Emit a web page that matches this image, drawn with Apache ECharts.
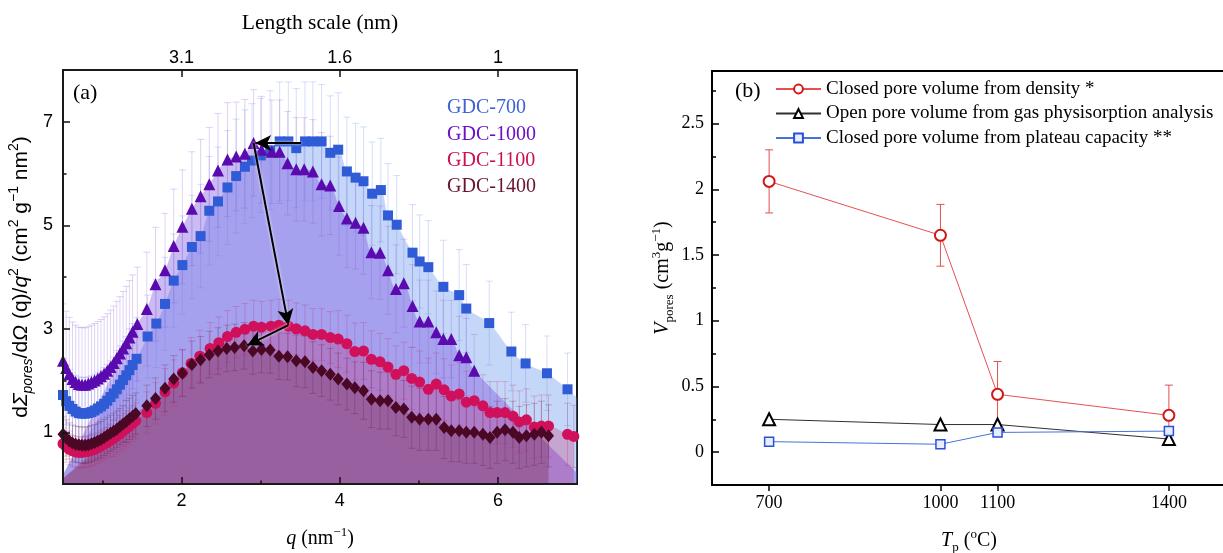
<!DOCTYPE html>
<html>
<head>
<meta charset="utf-8">
<script src="https://cdn.jsdelivr.net/npm/echarts@6/dist/echarts.min.js"></script>
<style>
  html, body { margin: 0; padding: 0; background: #fff; }
  #chart { width: 1223px; height: 553px; }
</style>
</head>
<body>
<div id="chart"></div>
<script>
// ---- panel (a): [q, value, error] ----
var gdc700 = [
  [0.50,1.72,0.7],[0.54,1.60,0.7],[0.58,1.51,0.7],[0.62,1.45,0.7],[0.66,1.40,0.7],[0.70,1.37,0.7],
  [0.74,1.36,0.7],[0.78,1.36,0.7],[0.82,1.37,0.7],[0.86,1.39,0.7],[0.90,1.42,0.7],[0.94,1.46,0.7],
  [0.98,1.50,0.7],[1.02,1.55,0.7],[1.06,1.61,0.7],[1.10,1.68,0.7],[1.14,1.75,0.7],[1.18,1.83,0.75],
  [1.22,1.92,0.75],[1.26,2.01,0.75],[1.30,2.10,0.75],[1.34,2.20,0.8],[1.38,2.30,0.8],[1.43,2.42,0.8],
  [1.57,2.85,0.8],[1.68,3.10,0.85],[1.79,3.48,0.9],[1.90,3.93,0.9],[2.01,4.23,0.95],[2.13,4.58,1.0],
  [2.24,4.79,1.0],[2.35,5.28,1.05],[2.46,5.46,1.05],[2.58,5.73,1.1],[2.69,5.95,1.1],[2.80,6.13,1.1],
  [2.89,6.25,1.1],[3.00,6.35,1.1],[3.12,6.45,1.15],[3.24,6.62,1.15],[3.35,6.62,1.15],[3.45,6.49,1.15],
  [3.56,6.62,1.15],[3.66,6.62,1.15],[3.77,6.62,1.1],[3.88,6.40,1.1],[3.98,6.46,1.1],[4.09,6.04,1.05],
  [4.20,5.92,1.05],[4.30,5.85,1.05],[4.41,5.61,1.0],[4.52,5.68,1.0],[4.61,5.19,1.0],[4.72,5.01,0.95],
  [4.92,4.47,0.93],[5.01,4.30,0.9],[5.12,4.19,0.9],[5.31,3.81,0.9],[5.51,3.65,0.88],[5.60,3.39,0.85],
  [5.89,3.11,0.81],[6.17,2.56,0.76],[6.35,2.33,0.75],[6.62,2.14,0.72],[6.88,1.83,0.7],[7.05,1.60,0.7]
];
var gdc1000 = [
  [0.50,2.38,1.1],[0.54,2.24,1.1],[0.58,2.12,1.1],[0.62,2.03,1.1],[0.66,1.97,1.1],[0.70,1.93,1.1],
  [0.74,1.92,1.1],[0.78,1.92,1.1],[0.82,1.94,1.1],[0.86,1.97,1.1],[0.90,2.00,1.1],[0.94,2.04,1.1],
  [0.98,2.08,1.1],[1.02,2.13,1.1],[1.06,2.19,1.1],[1.10,2.26,1.1],[1.14,2.34,1.1],[1.18,2.43,1.1],
  [1.22,2.52,1.1],[1.26,2.62,1.1],[1.30,2.72,1.1],[1.34,2.83,1.1],[1.38,2.94,1.1],[1.44,3.09,1.1],
  [1.56,3.38,1.1],[1.67,3.86,1.1],[1.79,4.13,1.1],[1.90,4.60,1.1],[2.01,4.97,1.1],[2.13,5.32,1.1],
  [2.24,5.56,1.1],[2.35,5.79,1.1],[2.46,6.06,1.1],[2.58,6.27,1.1],[2.69,6.33,1.05],[2.80,6.38,1.05],
  [2.91,6.59,1.03],[3.01,6.46,1.03],[3.14,6.42,1.0],[3.24,6.42,1.0],[3.34,6.20,1.0],[3.45,6.08,1.0],
  [3.55,6.08,1.0],[3.66,6.04,1.0],[3.77,5.79,1.0],[3.88,5.77,0.95],[3.99,5.37,0.95],[4.09,5.13,0.95],
  [4.20,5.05,0.9],[4.30,4.95,0.9],[4.40,4.48,0.9],[4.51,4.47,0.9],[4.61,4.13,0.85],[4.71,3.77,0.85],
  [4.81,3.88,0.85],[4.92,3.44,0.8],[5.01,3.14,0.8],[5.12,3.14,0.8],[5.22,2.93,0.8],[5.31,2.80,0.75],
  [5.41,2.80,0.75],[5.51,2.49,0.75],[5.60,2.45,0.75],[5.70,2.19,0.7]
];
var gdc1100 = [
  [0.50,0.78,0.3],[0.54,0.72,0.3],[0.58,0.67,0.3],[0.62,0.64,0.3],[0.66,0.62,0.3],[0.70,0.61,0.3],
  [0.74,0.61,0.3],[0.78,0.62,0.3],[0.82,0.63,0.3],[0.86,0.65,0.3],[0.90,0.67,0.3],[0.94,0.70,0.3],
  [0.98,0.73,0.3],[1.02,0.77,0.3],[1.06,0.80,0.3],[1.10,0.84,0.3],[1.14,0.88,0.35],[1.18,0.93,0.35],
  [1.22,0.97,0.35],[1.26,1.02,0.35],[1.30,1.07,0.35],[1.34,1.12,0.35],[1.38,1.17,0.35],[1.42,1.22,0.35],
  [1.56,1.38,0.4],[1.67,1.56,0.4],[1.79,1.78,0.45],[1.90,1.95,0.45],[2.01,2.15,0.45],[2.12,2.33,0.5],
  [2.23,2.47,0.5],[2.36,2.62,0.5],[2.47,2.73,0.5],[2.58,2.85,0.5],[2.69,2.93,0.5],[2.80,2.99,0.5],
  [2.91,3.05,0.5],[3.01,3.03,0.5],[3.13,3.05,0.5],[3.23,3.07,0.5],[3.35,3.05,0.5],[3.45,3.00,0.5],
  [3.56,2.96,0.5],[3.66,2.89,0.5],[3.77,2.89,0.5],[3.88,2.83,0.5],[3.98,2.80,0.55],[4.09,2.71,0.55],
  [4.19,2.56,0.55],[4.30,2.57,0.55],[4.40,2.41,0.55],[4.51,2.36,0.55],[4.61,2.26,0.55],[4.71,2.12,0.55],
  [4.81,2.19,0.55],[4.91,2.04,0.6],[5.01,1.97,0.6],[5.12,1.83,0.6],[5.22,1.93,0.6],[5.32,1.82,0.6],
  [5.41,1.70,0.6],[5.51,1.74,0.6],[5.60,1.58,0.6],[5.70,1.61,0.6],[5.81,1.51,0.6],[5.90,1.38,0.6],
  [5.99,1.38,0.6],[6.09,1.38,0.6],[6.19,1.31,0.6],[6.27,1.20,0.6],[6.36,1.24,0.6],[6.46,1.10,0.6],
  [6.55,1.12,0.6],[6.64,1.12,0.6],[6.88,0.96,0.6],[6.96,0.92,0.6]
];
var gdc1400 = [
  [0.50,0.96,0.35],[0.54,0.89,0.35],[0.58,0.83,0.35],[0.62,0.79,0.35],[0.66,0.77,0.35],[0.70,0.76,0.35],
  [0.74,0.75,0.35],[0.78,0.75,0.35],[0.82,0.76,0.35],[0.86,0.78,0.35],[0.90,0.80,0.35],[0.94,0.83,0.35],
  [0.98,0.86,0.35],[1.02,0.90,0.35],[1.06,0.94,0.35],[1.10,0.98,0.35],[1.14,1.02,0.35],[1.18,1.06,0.35],
  [1.22,1.11,0.35],[1.26,1.16,0.35],[1.30,1.21,0.4],[1.34,1.26,0.4],[1.38,1.31,0.4],[1.42,1.36,0.4],
  [1.56,1.51,0.4],[1.67,1.65,0.4],[1.79,1.85,0.45],[1.90,2.03,0.45],[2.01,2.14,0.45],[2.13,2.31,0.45],
  [2.24,2.40,0.45],[2.35,2.50,0.45],[2.46,2.57,0.45],[2.57,2.62,0.45],[2.67,2.64,0.45],[2.79,2.67,0.45],
  [2.90,2.57,0.45],[3.01,2.60,0.45],[3.12,2.59,0.45],[3.23,2.47,0.45],[3.34,2.46,0.45],[3.45,2.38,0.5],
  [3.56,2.36,0.5],[3.66,2.25,0.5],[3.77,2.19,0.5],[3.88,2.12,0.5],[3.98,2.03,0.5],[4.09,1.93,0.5],
  [4.19,1.86,0.5],[4.30,1.80,0.55],[4.40,1.64,0.55],[4.51,1.61,0.55],[4.61,1.61,0.55],[4.71,1.48,0.55],
  [4.81,1.45,0.55],[4.91,1.29,0.6],[5.01,1.25,0.6],[5.12,1.25,0.6],[5.22,1.25,0.6],[5.32,1.09,0.6],
  [5.41,1.03,0.6],[5.51,1.03,0.6],[5.60,1.00,0.6],[5.70,1.00,0.6],[5.81,0.96,0.6],[5.90,0.90,0.6],
  [5.99,1.00,0.6],[6.09,1.05,0.6],[6.19,1.00,0.6],[6.27,0.90,0.6],[6.36,0.93,0.6],[6.46,0.96,0.6],
  [6.55,1.00,0.6],[6.64,0.93,0.6]
];
// shaded envelopes: start point at low q, optional tail point
var fillStart = { g700: [0.5, 0.2], g1000: [0.5, 0.15], g1100: [0.5, 0.1], g1400: [0.5, 0.1] };
var fillTail1000 = [7.0, 0.22];
var fillFromQ = 1.42;

// arrows between peaks (data coords)
var arrowPts = [
  [[3.51, 6.59], [2.93, 6.59]],
  [[2.91, 6.59], [3.35, 3.07]],
  [[3.35, 3.07], [2.83, 2.68]]
];

// axis ticks
var qMajor = [2, 4, 6], qMinor = [1, 3, 5];
var aYMajor = [1, 3, 5, 7], aYMinor = [2, 4, 6];
var lengthLabels = ['3.1', '1.6', '1'];

// ---- panel (b) ----
var tempTicks = [700, 1000, 1100, 1400];
var densityV = [2.06, 1.65, 0.44, 0.28];
var densityErr = [0.24, 0.235, 0.25, 0.23];
var gasV = [0.25, 0.21, 0.21, 0.10];
var plateauV = [0.08, 0.06, 0.15, 0.16];
var bYMajor = [0, 0.5, 1, 1.5, 2, 2.5];
var bYMinor = [-0.25, 0.25, 0.75, 1.25, 1.75, 2.25, 2.75];

var SERIF = '"Liberation Serif", "DejaVu Serif", serif';
var SANS = '"Liberation Sans", Arial, sans-serif';

function pairs(list) { return list.map(function (p) { return [p[0], p[1]]; }); }
function fillData(list, start, tail) {
  var d = [start].concat(pairs(list.filter(function (p) { return p[0] >= fillFromQ; })));
  if (tail) d.push(tail);
  return d;
}
function errRender(params, api) {
  var x = api.value(0), y = api.value(1), e = api.value(2);
  var hi = api.coord([x, y + e]), lo = api.coord([x, y - e]);
  var w = params.seriesName === 'errB' ? 4 : 3.5;
  var st = { stroke: api.visual('color'), lineWidth: 1 };
  return { type: 'group', children: [
    { type: 'line', shape: { x1: hi[0], y1: hi[1], x2: lo[0], y2: lo[1] }, style: st },
    { type: 'line', shape: { x1: hi[0] - w, y1: hi[1], x2: hi[0] + w, y2: hi[1] }, style: st },
    { type: 'line', shape: { x1: lo[0] - w, y1: lo[1], x2: lo[0] + w, y2: lo[1] }, style: st }
  ]};
}

var groups = [
  { key: 'g700', name: 'GDC-700', d: gdc700, color: '#2f5bd6', fill: 'rgba(90,140,235,0.35)', err: 'rgba(90,130,230,0.25)', symbol: 'rect', size: 10, tail: null },
  { key: 'g1000', name: 'GDC-1000', d: gdc1000, color: '#5a0aae', fill: 'rgba(110,60,220,0.35)', err: 'rgba(140,80,220,0.25)', symbol: 'triangle', size: 12, tail: fillTail1000 },
  { key: 'g1100', name: 'GDC-1100', d: gdc1100, color: '#d0105a', fill: 'rgba(200,20,90,0.25)', err: 'rgba(190,40,110,0.25)', symbol: 'circle', size: 11, tail: null },
  { key: 'g1400', name: 'GDC-1400', d: gdc1400, color: '#4a0824', fill: 'rgba(90,10,40,0.25)', err: 'rgba(90,20,60,0.25)', symbol: 'diamond', size: [11, 13], tail: null }
];
var legendColors = ['#3d63d2', '#6a10c8', '#cc1050', '#6a1434'];

var series = [];
groups.forEach(function (g) {
  series.push({
    type: 'line', name: g.name + ' fill', xAxisIndex: 0, yAxisIndex: 0,
    data: fillData(g.d, fillStart[g.key], g.tail), smooth: 0.3, showSymbol: false,
    lineStyle: { width: 0 }, areaStyle: { color: g.fill, opacity: 1 }, z: 1, silent: true
  });
});
groups.forEach(function (g) {
  series.push({
    type: 'custom', name: g.name + ' err', xAxisIndex: 0, yAxisIndex: 0,
    data: g.d, renderItem: errRender, itemStyle: { color: g.err }, clip: true, z: 2, silent: true
  });
});
groups.forEach(function (g) {
  series.push({
    type: 'scatter', name: g.name, xAxisIndex: 0, yAxisIndex: 0,
    data: pairs(g.d), symbol: g.symbol, symbolSize: g.size,
    itemStyle: { color: g.color, opacity: 1 }, z: 3, clip: true
  });
});
series.push({
  type: 'line', name: 'arrows', xAxisIndex: 0, yAxisIndex: 0, data: [], z: 5,
  markLine: {
    silent: true, symbol: ['none', 'arrow'], symbolSize: [12, 16],
    label: { show: false },
    lineStyle: { color: '#000', width: 2, type: 'solid', shadowColor: 'rgba(255,255,255,0.9)', shadowBlur: 3 },
    data: arrowPts.map(function (a) { return [{ coord: a[0] }, { coord: a[1] }]; })
  }
});

// panel (b)
var lineStyleB = function (c) { return { color: c, width: 1 }; };
series.push({
  type: 'custom', name: 'errB', xAxisIndex: 3, yAxisIndex: 2,
  data: tempTicks.map(function (t, i) { return [t, densityV[i], densityErr[i]]; }),
  renderItem: errRender, itemStyle: { color: '#e05050' }, z: 2, silent: true
});
series.push({
  type: 'line', name: 'Closed pore volume from density *', xAxisIndex: 3, yAxisIndex: 2,
  data: tempTicks.map(function (t, i) { return [t, densityV[i]]; }),
  symbol: 'circle', symbolSize: 11, lineStyle: lineStyleB('#e85050'),
  itemStyle: { color: '#fff', borderColor: '#d01818', borderWidth: 2 }, z: 3
});
series.push({
  type: 'line', name: 'Open pore volume from gas physisorption analysis', xAxisIndex: 3, yAxisIndex: 2,
  data: tempTicks.map(function (t, i) { return [t, gasV[i]]; }),
  symbol: 'triangle', symbolSize: 12, lineStyle: lineStyleB('#303030'),
  itemStyle: { color: '#fff', borderColor: '#000', borderWidth: 2 }, z: 4
});
series.push({
  type: 'line', name: 'Closed pore volume from plateau capacity **', xAxisIndex: 3, yAxisIndex: 2,
  data: tempTicks.map(function (t, i) { return [t, plateauV[i]]; }),
  symbol: 'rect', symbolSize: 9, lineStyle: lineStyleB('#4a70e0'),
  itemStyle: { color: '#e8eeff', borderColor: '#2a50d8', borderWidth: 1.5 }, z: 5
});

var tickA = { show: true, inside: true, length: 7, lineStyle: { color: '#111', width: 1.5 } };
var minorA = { show: true, inside: true, length: 3.5, lineStyle: { color: '#111', width: 1.5 } };
var richA = {
  n: { fontFamily: SANS, fontSize: 21, lineHeight: 28, color: '#000' },
  i: { fontFamily: SANS, fontSize: 21, fontStyle: 'italic', lineHeight: 28, color: '#000' },
  sub: { fontFamily: SANS, fontSize: 14, fontStyle: 'italic', lineHeight: 15, verticalAlign: 'bottom', color: '#000' },
  sup: { fontFamily: SANS, fontSize: 14, lineHeight: 15, verticalAlign: 'top', color: '#000' }
};
var richS = {
  n: { fontFamily: SERIF, fontSize: 20, lineHeight: 26, color: '#000' },
  i: { fontFamily: SERIF, fontSize: 20, fontStyle: 'italic', lineHeight: 26, color: '#000' },
  sub: { fontFamily: SERIF, fontSize: 13, lineHeight: 14, verticalAlign: 'bottom', color: '#000' },
  sup: { fontFamily: SERIF, fontSize: 13, lineHeight: 14, verticalAlign: 'top', color: '#000' }
};
function plain(v) { return String(v); }

var option = {
  animation: false,
  backgroundColor: '#fff',
  grid: [
    { left: 63, top: 70, width: 514, height: 414, outerBoundsMode: 'none', containLabel: false,
      show: true, borderColor: '#1a1a1a', borderWidth: 2, backgroundColor: 'transparent' },
    { left: 712, top: 71, width: 514, height: 414, outerBoundsMode: 'none', containLabel: false,
      show: true, borderColor: '#000', borderWidth: 2, backgroundColor: 'transparent' }
  ],
  legend: {
    data: ['Closed pore volume from density *', 'Open pore volume from gas physisorption analysis', 'Closed pore volume from plateau capacity **'],
    orient: 'vertical', left: 775, top: 79, padding: 0, itemWidth: 45, itemHeight: 11, itemGap: 4.5,
    textStyle: { fontFamily: SERIF, fontSize: 19, color: '#000', lineHeight: 20 }
  },
  xAxis: [
    { gridIndex: 0, type: 'value', min: 0.5, max: 7, position: 'bottom', z: 10,
      axisLine: { show: true, onZero: false, lineStyle: { color: '#1a1a1a', width: 2 } },
      axisTick: Object.assign({ customValues: qMajor }, tickA),
      axisLabel: { customValues: qMajor, fontFamily: SANS, fontSize: 18, color: '#000', margin: 8, formatter: plain },
      splitLine: { show: false },
      name: '{i|q}{n| (nm}{sup|−1}{n|)}', nameLocation: 'middle', nameGap: 42,
      nameTextStyle: { rich: richS } },
    { gridIndex: 0, type: 'value', min: 0.5, max: 7, position: 'bottom', z: 10,
      axisLine: { show: false, onZero: false }, axisTick: Object.assign({ customValues: qMinor }, minorA),
      axisLabel: { show: false }, splitLine: { show: false } },
    { gridIndex: 0, type: 'value', min: 0.5, max: 7, position: 'top', z: 10,
      axisLine: { show: true, onZero: false, lineStyle: { color: '#1a1a1a', width: 2 } },
      axisTick: Object.assign({ customValues: qMajor }, tickA),
      axisLabel: { customValues: qMajor, fontFamily: SANS, fontSize: 18, color: '#000', margin: 3,
        formatter: function (v) { return lengthLabels[qMajor.indexOf(v)]; } },
      splitLine: { show: false },
      name: 'Length scale (nm)', nameLocation: 'middle', nameGap: 36,
      nameTextStyle: { fontFamily: SERIF, fontSize: 21.5, color: '#000' } },
    { gridIndex: 1, type: 'value', min: 600, max: 1500, position: 'bottom', z: 10,
      axisLine: { show: true, onZero: false, lineStyle: { color: '#000', width: 2 } },
      axisTick: { show: true, inside: false, length: 6, customValues: tempTicks, lineStyle: { color: '#000', width: 1.5 } },
      axisLabel: { customValues: tempTicks, fontFamily: SERIF, fontSize: 18, color: '#000', margin: 9, formatter: plain },
      splitLine: { show: false },
      name: '{i|T}{sub|p}{n| (}{sup|o}{n|C)}', nameLocation: 'middle', nameGap: 43,
      nameTextStyle: { rich: richS } }
  ],
  yAxis: [
    { gridIndex: 0, type: 'value', min: 0, max: 8, position: 'left', z: 10,
      axisLine: { show: true, onZero: false, lineStyle: { color: '#1a1a1a', width: 2 } },
      axisTick: Object.assign({ customValues: aYMajor }, tickA),
      axisLabel: { customValues: aYMajor, fontFamily: SANS, fontSize: 18, color: '#000', margin: 10 },
      splitLine: { show: false },
      name: '{n|d}{i|Σ}{sub|pores}{n|/d}{i|Ω}{n| (q)/}{i|q}{sup|2}{n| (cm}{sup|2}{n| g}{sup|−1}{n| nm}{sup|2}{n|)}',
      nameLocation: 'middle', nameRotate: 90, nameGap: 28,
      nameTextStyle: { rich: richA } },
    { gridIndex: 0, type: 'value', min: 0, max: 8, position: 'left', z: 10,
      axisLine: { show: false, onZero: false }, axisTick: Object.assign({ customValues: aYMinor }, minorA),
      axisLabel: { show: false }, splitLine: { show: false } },
    { gridIndex: 1, type: 'value', min: -0.25, max: 2.9, position: 'left', z: 10,
      axisLine: { show: true, onZero: false, lineStyle: { color: '#000', width: 2 } },
      axisTick: { show: true, inside: true, length: 7, customValues: bYMajor, lineStyle: { color: '#000', width: 1.5 } },
      axisLabel: { customValues: bYMajor, fontFamily: SERIF, fontSize: 18, color: '#000', margin: 8 },
      splitLine: { show: false },
      name: '{i|V}{sub|pores}{n| (cm}{sup|3}{n|g}{sup|−1}{n|)}',
      nameLocation: 'middle', nameRotate: 90, nameGap: 36,
      nameTextStyle: { rich: richS } },
    { gridIndex: 1, type: 'value', min: -0.25, max: 2.9, position: 'left', z: 10,
      axisLine: { show: false, onZero: false },
      axisTick: { show: true, inside: true, length: 4, customValues: bYMinor, lineStyle: { color: '#000', width: 1.5 } },
      axisLabel: { show: false }, splitLine: { show: false } }
  ],
  graphic: [
    { type: 'text', left: 73, top: 82, style: { text: '(a)', font: '22px ' + SERIF, fill: '#000' } },
    { type: 'text', left: 735, top: 80, style: { text: '(b)', font: '22px ' + SERIF, fill: '#000' } }
  ].concat(groups.map(function (g, i) {
    return { type: 'text', left: 447, top: 98 + i * 26.3,
      style: { text: g.name, font: '20px ' + SERIF, fill: legendColors[i] } };
  })),
  series: series
};

var chart = echarts.init(document.getElementById('chart'));
chart.setOption(option);
</script>
</body>
</html>
